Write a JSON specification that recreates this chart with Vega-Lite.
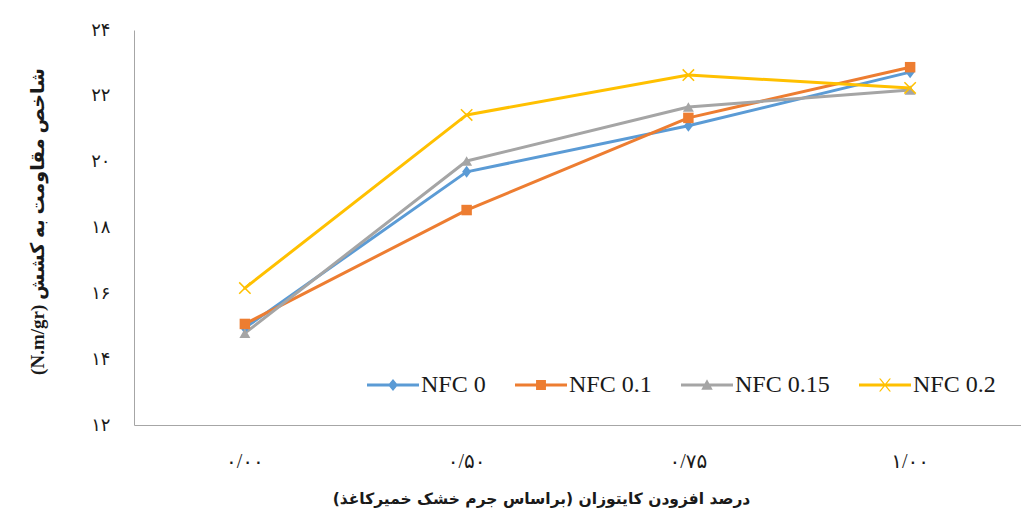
{
  "$schema": "https://vega.github.io/schema/vega-lite/v6.json",
  "width": 887,
  "height": 395,
  "autosize": {"type": "none"},
  "padding": {"left": 134, "top": 30, "right": 0, "bottom": 96},
  "background": "white",
  "config": {"view": {"stroke": null}, "font": "Liberation Serif, DejaVu Sans"},
  "data": {
    "values": [
      {"series": "NFC 0", "chitosan": "۰/۰۰", "value": 14.95},
      {"series": "NFC 0", "chitosan": "۰/۵۰", "value": 19.69},
      {"series": "NFC 0", "chitosan": "۰/۷۵", "value": 21.09},
      {"series": "NFC 0", "chitosan": "۱/۰۰", "value": 22.72},
      {"series": "NFC 0.1", "chitosan": "۰/۰۰", "value": 15.07},
      {"series": "NFC 0.1", "chitosan": "۰/۵۰", "value": 18.53},
      {"series": "NFC 0.1", "chitosan": "۰/۷۵", "value": 21.33},
      {"series": "NFC 0.1", "chitosan": "۱/۰۰", "value": 22.87},
      {"series": "NFC 0.15", "chitosan": "۰/۰۰", "value": 14.79},
      {"series": "NFC 0.15", "chitosan": "۰/۵۰", "value": 20.02},
      {"series": "NFC 0.15", "chitosan": "۰/۷۵", "value": 21.66},
      {"series": "NFC 0.15", "chitosan": "۱/۰۰", "value": 22.18},
      {"series": "NFC 0.2", "chitosan": "۰/۰۰", "value": 16.16},
      {"series": "NFC 0.2", "chitosan": "۰/۵۰", "value": 21.42},
      {"series": "NFC 0.2", "chitosan": "۰/۷۵", "value": 22.63},
      {"series": "NFC 0.2", "chitosan": "۱/۰۰", "value": 22.24}
    ]
  },
  "encoding": {
    "x": {
      "field": "chitosan",
      "type": "ordinal",
      "sort": ["۰/۰۰", "۰/۵۰", "۰/۷۵", "۱/۰۰"],
      "scale": {"type": "band", "paddingInner": 0, "paddingOuter": 0},
      "axis": {
        "title": "درصد افزودن کایتوزان (براساس جرم خشک خمیرکاغذ)",
        "labelAngle": 0,
        "domainColor": "#a6a6a6",
        "domainWidth": 1,
        "ticks": false,
        "grid": false,
        "labelFont": "Liberation Serif, DejaVu Sans",
        "labelFontSize": 20,
        "labelColor": "#1a1a1a",
        "labelBaseline": "middle",
        "labelPadding": 36,
        "titleFont": "DejaVu Sans",
        "titleFontSize": 15.5,
        "titleFontWeight": "bold",
        "titleColor": "#1a1a1a",
        "titleX": 407,
        "titleY": 73,
        "titleAlign": "center",
        "titleBaseline": "middle"
      }
    },
    "y": {
      "field": "value",
      "type": "quantitative",
      "scale": {"domain": [12, 24], "nice": false, "zero": false},
      "axis": {
        "title": "\u202bشاخص مقاومت به کشش (N.m/gr)\u202c",
        "values": [12, 14, 16, 18, 20, 22, 24],
        "labelExpr": "datum.value == 12 ? '۱۲' : datum.value == 14 ? '۱۴' : datum.value == 16 ? '۱۶' : datum.value == 18 ? '۱۸' : datum.value == 20 ? '۲۰' : datum.value == 22 ? '۲۲' : '۲۴'",
        "domainColor": "#a6a6a6",
        "domainWidth": 1,
        "ticks": false,
        "grid": false,
        "labelFont": "DejaVu Sans",
        "labelFontSize": 18,
        "labelColor": "#1a1a1a",
        "labelPadding": 24,
        "titleFont": "Liberation Serif, DejaVu Sans",
        "titleFontSize": 19,
        "titleFontWeight": "bold",
        "titleColor": "#1a1a1a",
        "titleAngle": -90,
        "titleX": -97,
        "titleY": 191,
        "titleAlign": "center",
        "titleBaseline": "middle"
      }
    },
    "color": {
      "field": "series",
      "type": "nominal",
      "scale": {
        "domain": ["NFC 0", "NFC 0.1", "NFC 0.15", "NFC 0.2"],
        "range": ["#5B9BD5", "#ED7D31", "#A5A5A5", "#FFC000"]
      },
      "legend": null
    }
  },
  "layer": [
    {
      "mark": {"type": "line", "strokeWidth": 3, "strokeJoin": "round", "strokeCap": "round"}
    },
    {
      "transform": [{"filter": "datum.series === 'NFC 0'"}],
      "mark": {"type": "point", "filled": true, "opacity": 1, "size": 100, "shape": "M0,-1.2L0.9,0L0,1.2L-0.9,0Z"}
    },
    {
      "transform": [{"filter": "datum.series === 'NFC 0.1'"}],
      "mark": {"type": "point", "filled": true, "opacity": 1, "size": 110, "shape": "square"}
    },
    {
      "transform": [{"filter": "datum.series === 'NFC 0.15'"}],
      "mark": {"type": "point", "filled": true, "opacity": 1, "size": 120, "shape": "triangle-up"}
    },
    {
      "transform": [{"filter": "datum.series === 'NFC 0.2'"}],
      "mark": {"type": "point", "filled": false, "opacity": 1, "size": 130, "strokeWidth": 1.5, "shape": "M-1,-1L1,1M-1,1L1,-1"}
    },
    {
      "mark": {"type": "point", "filled": true, "opacity": 0, "size": 2704},
      "encoding": {
        "fill": {
          "field": "series",
          "type": "nominal",
          "scale": {"range": ["#5B9BD5", "#ED7D31", "#A5A5A5", "#FFC000"]},
          "legend": {
            "title": null,
            "orient": "none",
            "legendX": 233,
            "legendY": 329,
            "direction": "horizontal",
            "padding": 0,
            "columnPadding": 29,
            "labelOffset": 2,
            "symbolSize": 2704,
            "symbolStrokeWidth": 0,
            "symbolOpacity": 1,
            "labelFont": "Liberation Serif",
            "labelFontSize": 24,
            "labelColor": "#1a1a1a"
          }
        },
        "shape": {
          "field": "series",
          "type": "nominal",
          "scale": {
            "range": [
              "M-1,-0.055H1V0.055H-1Z M0,-0.23L0.19,0L0,0.23L-0.19,0Z",
              "M-1,-0.055H1V0.055H-1Z M-0.19,-0.19H0.19V0.19H-0.19Z",
              "M-1,-0.055H1V0.055H-1Z M0,-0.22L0.22,0.18H-0.22Z",
              "M-1,-0.055H1V0.055H-1Z M-0.23,-0.25L-0.17,-0.25L0.23,0.25L0.17,0.25Z M0.17,-0.25L0.23,-0.25L-0.17,0.25L-0.23,0.25Z"
            ]
          },
          "legend": {
            "title": null,
            "orient": "none",
            "legendX": 233,
            "legendY": 329,
            "direction": "horizontal",
            "padding": 0,
            "columnPadding": 29,
            "labelOffset": 2,
            "symbolSize": 2704,
            "symbolStrokeWidth": 0,
            "symbolOpacity": 1,
            "labelFont": "Liberation Serif",
            "labelFontSize": 24,
            "labelColor": "#1a1a1a"
          }
        }
      }
    }
  ]
}
